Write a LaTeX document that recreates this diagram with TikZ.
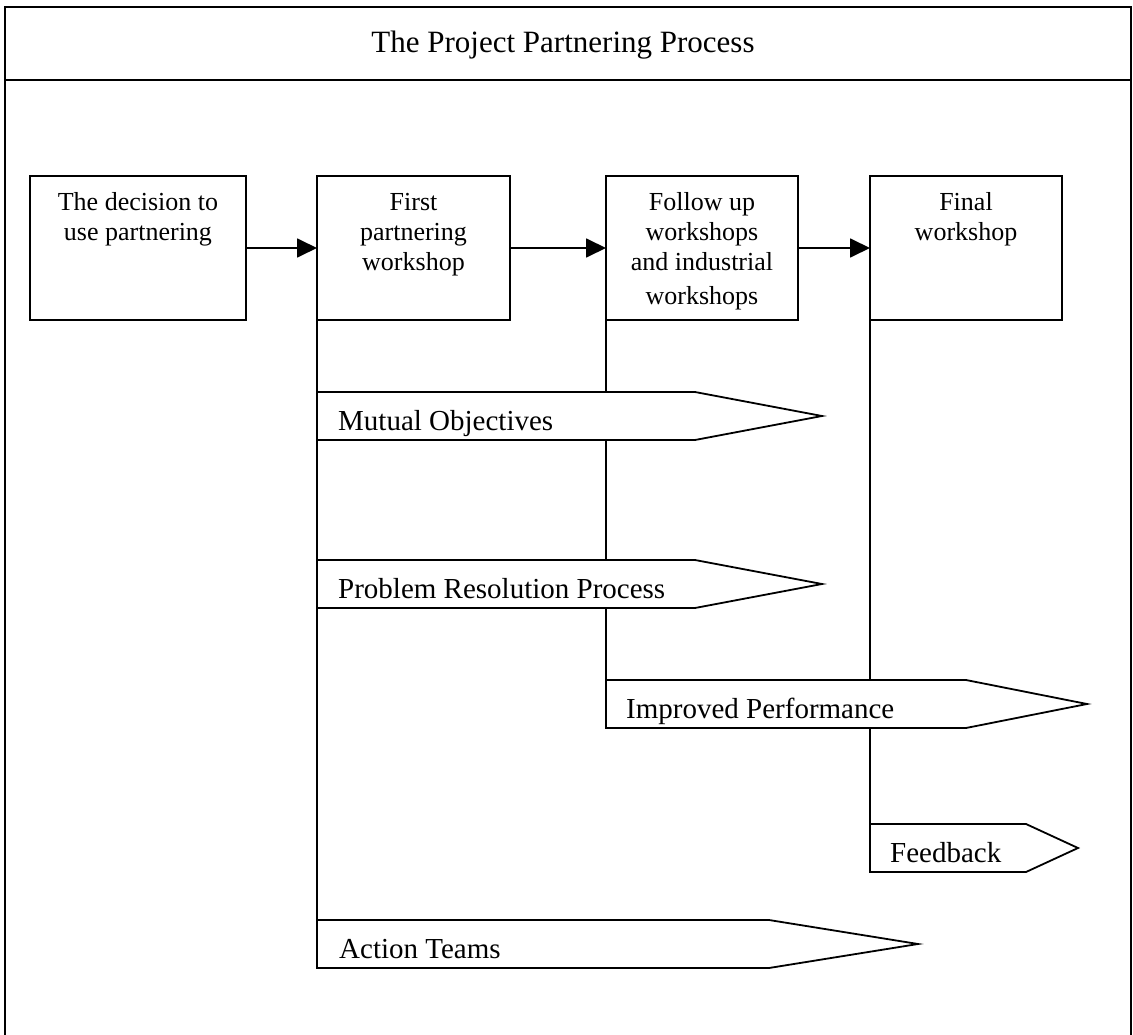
\documentclass[tikz,border=0pt]{standalone}
\usepackage{fontspec}
\setmainfont{Liberation Serif}
\usetikzlibrary{arrows.meta}
\newcommand{\stagetext}[1]{\begin{tabular}[t]{@{}c@{}}#1\end{tabular}}

\begin{document}
\begin{tikzpicture}[x=1pt,y=-1pt]
\tikzset{stagebox/.style={draw,line width=1.8pt,minimum height=144pt,inner sep=0pt,outer sep=0pt}};
\tikzset{stagelabel/.style={anchor=base,inner sep=0pt,font=\fontsize{26}{30}\selectfont}};
\tikzset{flow/.style={line width=1.8pt,-{Triangle[length=20pt,width=19pt]}}};
\tikzset{lifeline/.style={line width=1.8pt}};
\tikzset{streamshape/.style={draw,fill=white,line width=1.8pt,line join=miter}};
\tikzset{streamlabel/.style={anchor=base west,inner sep=0pt,font=\fontsize{29}{34}\selectfont}};

\useasboundingbox (0,0) rectangle (1133,1035);

% frame and heading
\draw[lifeline] (5,1035) -- (5,7) -- (1131,7) -- (1131,1035);
\draw[lifeline] (5,80) -- (1131,80);
\node[anchor=base,inner sep=0pt,font=\fontsize{31}{36}\selectfont] (title) at (563,53) {The Project Partnering Process};

% the four stages
\node[stagebox,minimum width=216pt] (decide) at (138,248) {};
\node[stagebox,minimum width=193pt] (first) at (413.5,248) {};
\node[stagebox,minimum width=192pt] (follow) at (702,248) {};
\node[stagebox,minimum width=192pt] (final) at (966,248) {};

\node[stagelabel] (decideTxt) at ([yshift=-35pt]decide.north) {\stagetext{The decision to\\use partnering}};
\node[stagelabel] (firstTxt) at ([yshift=-35pt]first.north) {\stagetext{First\\partnering\\workshop}};
\node[stagelabel] (followTxt) at ([yshift=-35pt]follow.north) {\stagetext{Follow up\\workshops\\and industrial\\[4pt]workshops}};
\node[stagelabel] (finalTxt) at ([yshift=-35pt]final.north) {\stagetext{Final\\workshop}};

\path (decide) edge [flow] (first);
\path (first) edge [flow] (follow);
\path (follow) edge [flow] (final);

% lines down from the stages
\coordinate (actionEnd) at (317,968);
\coordinate (improvedEnd) at (606,728);
\coordinate (feedbackEnd) at (870,872);
\path (first.south west) edge [lifeline] (actionEnd);
\path (follow.south west) edge [lifeline] (improvedEnd);
\path (final.south west) edge [lifeline] (feedbackEnd);

% outcomes
\draw[streamshape] (317,392) -- (695,392) -- (822,416) -- (695,440) -- (317,440) -- cycle;
\node[streamlabel] (mutual) at (338,430) {Mutual Objectives};

\draw[streamshape] (317,560) -- (695,560) -- (822,584) -- (695,608) -- (317,608) -- cycle;
\node[streamlabel] (problem) at (338,598) {Problem Resolution Process};

\draw[streamshape] (606,680) -- (966,680) -- (1087,704) -- (966,728) -- (606,728) -- cycle;
\node[streamlabel] (improved) at (626,718) {Improved Performance};

\draw[streamshape] (870,824) -- (1026,824) -- (1078,848) -- (1026,872) -- (870,872) -- cycle;
\node[streamlabel] (feedback) at (890,862) {Feedback};

\draw[streamshape] (317,920) -- (769,920) -- (918,944) -- (769,968) -- (317,968) -- cycle;
\node[streamlabel] (action) at (339,958) {Action Teams};
\end{tikzpicture}
\end{document}
